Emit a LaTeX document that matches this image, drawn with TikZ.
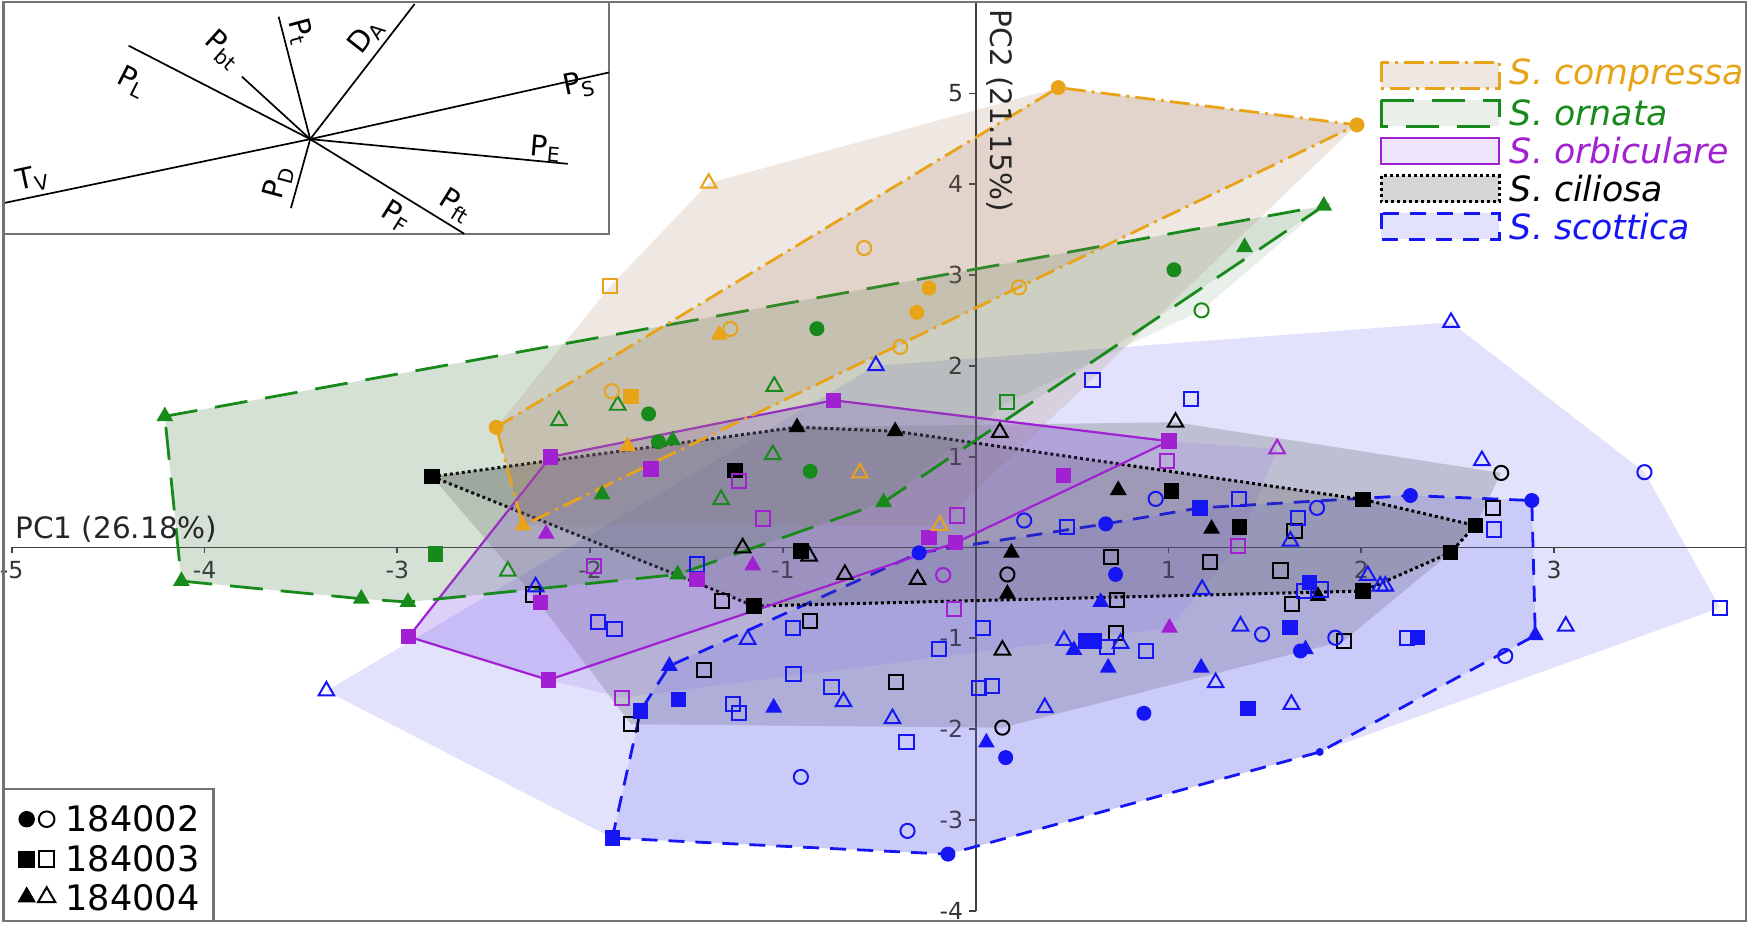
\documentclass[tikz,border=0pt]{standalone}
\usepackage{fontspec}
\setmainfont{DejaVu Sans}
\usetikzlibrary{shapes.geometric}

\definecolor{comp}{RGB}{232,163,25}
\definecolor{orna}{RGB}{24,138,28}
\definecolor{orbi}{RGB}{160,32,210}
\definecolor{scot}{RGB}{22,22,245}
\definecolor{compbg}{RGB}{170,130,100}
\definecolor{ornabg}{RGB}{100,140,100}
\definecolor{orbibg}{RGB}{150,110,235}
\definecolor{cilibg}{RGB}{80,80,80}
\definecolor{scotbg}{RGB}{110,110,240}

\tikzset{
  mk/.style={inner sep=0pt,outer sep=0pt,line width=0.2mm},
  fsq/.style={mk,rectangle,minimum size=1.55mm,fill=#1},
  osq/.style={mk,rectangle,minimum size=1.42mm,draw=#1},
  fci/.style={mk,circle,minimum size=1.5mm,fill=#1},
  oci/.style={mk,circle,minimum size=1.42mm,draw=#1},
  ftr/.style={mk,regular polygon,regular polygon sides=3,minimum size=1.95mm,fill=#1},
  otr/.style={mk,regular polygon,regular polygon sides=3,minimum size=1.8mm,draw=#1},
  smalldot/.style={mk,circle,minimum size=0.8mm,fill=#1},
  compfill/.style={fill=compbg,fill opacity=0.19},
  ornafill/.style={fill=ornabg,fill opacity=0.14},
  orbifill/.style={fill=orbibg,fill opacity=0.18},
  cilifill/.style={fill=cilibg,fill opacity=0.24},
  scotfill/.style={fill=scotbg,fill opacity=0.2},
  compline/.style={draw=comp,line width=0.28mm,dash pattern=on 2mm off 0.6mm on 0.3mm off 0.6mm},
  ornaline/.style={draw=orna,line width=0.28mm,dash pattern=on 3.3mm off 1.8mm},
  orbiline/.style={draw=orbi,line width=0.22mm},
  cililine/.style={draw=black,line width=0.3mm,dash pattern=on 0.3mm off 0.3mm},
  scotline/.style={draw=scot,line width=0.28mm,dash pattern=on 1.6mm off 1.1mm},
  axisline/.style={draw=black!75,line width=0.18mm},
  box/.style={draw=black!55,line width=0.25mm},
  vec/.style={draw=black,line width=0.17mm},
  ticklab/.style={inner sep=0pt,font=\fontsize{6.7}{7}\selectfont,text=black!80},
  axlab/.style={inner sep=0pt,font=\fontsize{8.4}{9}\selectfont,text=black!85},
  vlab/.style={inner sep=0pt,font=\fontsize{8.2}{9}\selectfont},
  legtext/.style={inner sep=0pt,font=\fontsize{9.9}{11}\selectfont\itshape},
  popn/.style={inner sep=0pt,font=\fontsize{10}{11}\selectfont},
}

\begin{document}
\begin{tikzpicture}[x=1.93cm,y=0.909cm]
\begin{scope}[x=1cm,y=1cm]
  \useasboundingbox (-9.75,-3.78) rectangle (7.74,5.48);
\end{scope}

\path[scotfill] (-3.368,-1.580) -- (-0.518,2.002) -- (2.465,2.479) -- (3.468,0.829) -- (3.860,-0.664) -- (1.784,-2.252) -- (-0.144,-3.377) -- (-1.885,-3.200) -- cycle;
\path[cilifill] (-2.820,0.780) -- (-0.927,1.324) -- (1.036,1.379) -- (2.725,0.821) -- (2.591,0.242) -- (2.461,-0.058) -- (1.908,-1.030) -- (0.138,-1.984) -- (-1.788,-1.947) -- (-2.297,-0.517) -- cycle;
\path[orbifill] (-2.941,-0.983) -- (-2.206,0.997) -- (-0.737,1.621) -- (1.002,1.170) -- (1.563,1.086) -- (1.359,0.015) -- (1.005,-0.884) -- (-1.836,-1.654) -- (-2.216,-1.459) -- cycle;
\path[ornafill] (-4.206,1.444) -- (1.805,3.762) -- (1.171,2.611) -- (0.164,1.599) -- (-0.478,0.498) -- (-1.546,-0.297) -- (-2.945,-0.601) -- (-3.187,-0.565) -- (-4.120,-0.370) -- cycle;
\path[compfill] (-2.487,1.323) -- (-1.896,2.875) -- (-1.385,4.012) -- (0.428,5.064) -- (1.977,4.653) -- (-0.187,0.242) -- (-2.349,0.242) -- cycle;

\draw[axisline] (-5,0) -- (3.99,0);
\draw[axisline] (0,-4) -- (0,6.007);
\foreach \t in {-5,-4,-3,-2,-1,1,2,3}{
  \draw[axisline] (\t,0) -- ++(0,-0.6mm);
  \node[ticklab,anchor=north] (xt\t) at ([yshift=-1.3mm]\t,0) {\t};
}
\foreach \t in {-4,-3,-2,-1,1,2,3,4,5}{
  \draw[axisline] (0,\t) -- ++(-0.7mm,0);
  \node[ticklab,anchor=east] (yt\t) at ([xshift=-1.2mm]0,\t) {\t};
}

\draw[scotline,scotfill] (-1.885,-3.200) -- (-1.739,-1.800) -- (-1.589,-1.305) -- (-0.294,-0.059) -- (0.674,0.260) -- (1.162,0.436) -- (2.254,0.572) -- (2.884,0.517) -- (2.902,-0.968) -- (1.784,-2.252) -- (-0.144,-3.377) -- cycle;
\draw[cililine,cilifill] (-2.820,0.780) -- (-0.927,1.324) -- (-0.418,1.280) -- (2.009,0.528) -- (2.591,0.242) -- (2.461,-0.058) -- (2.009,-0.480) -- (-1.149,-0.645) -- cycle;
\draw[orbiline,orbifill] (-2.206,0.997) -- (-0.737,1.621) -- (1.002,1.170) -- (-0.104,0.052) -- (-2.216,-1.459) -- (-2.941,-0.983) -- cycle;
\draw[ornaline,ornafill] (-4.206,1.444) -- (1.805,3.762) -- (-0.478,0.498) -- (-1.546,-0.297) -- (-2.945,-0.601) -- (-3.187,-0.565) -- (-4.120,-0.370) -- cycle;
\draw[compline,compfill] (-2.487,1.323) -- (0.428,5.064) -- (1.977,4.653) -- (-2.349,0.242) -- cycle;

\foreach \x/\y [count=\i] in {-2.820/0.780,-1.249/0.850,-0.907/-0.040,-1.149/-0.645,1.014/0.620,1.369/0.227,2.009/0.528,2.591/0.242,2.461/-0.058,2.009/-0.480}
  \node[fsq=black] (cili-fs-\i) at (\x,\y) {};
\foreach \x/\y [count=\i] in {-0.927/1.324,-0.418/1.280,0.739/0.631,0.185/-0.059,0.164/-0.510,1.223/0.205,1.775/-0.535}
  \node[ftr=black] (cili-ft-\i) at (\x,\y) {};
\foreach \x/\y [count=\i] in {0.703/-0.106,0.734/-0.583,0.729/-0.939,-0.858/-0.810,-1.318/-0.590,-1.408/-1.350,-0.415/-1.481,-1.788/-1.947,-2.297/-0.517,1.653/0.180,1.214/-0.161,1.580/-0.253,1.641/-0.627,1.908/-1.030,2.682/0.437}
  \node[osq=black] (cili-os-\i) at (\x,\y) {};
\foreach \x/\y [count=\i] in {0.125/1.268,1.036/1.379,-1.209/-0.004,-0.864/-0.095,-0.679/-0.297,-0.302/-0.352,0.138/-1.130}
  \node[otr=black] (cili-ot-\i) at (\x,\y) {};
\foreach \x/\y [count=\i] in {0.164/-0.297,0.138/-1.984,2.725/0.821}
  \node[oci=black] (cili-oc-\i) at (\x,\y) {};

\foreach \x/\y [count=\i] in {-0.294/-0.059,0.674/0.260,2.254/0.572,2.884/0.517,0.725/-0.297,0.155/-2.314,0.872/-1.826,1.684/-1.140,-0.144/-3.377}
  \node[fci=scot] (scot-fc-\i) at (\x,\y) {};
\node[smalldot=scot] (scot-dot) at (1.784,-2.252) {};
\foreach \x/\y [count=\i] in {-1.885/-3.200,-1.739/-1.800,-1.541/-1.672,0.570/-1.031,0.612/-1.031,1.162/0.436,1.629/-0.884,1.411/-1.775,1.732/-0.388,2.292/-0.994}
  \node[fsq=scot] (scot-fs-\i) at (\x,\y) {};
\foreach \x/\y [count=\i] in {-1.589/-1.305,-1.048/-1.764,0.055/-2.149,0.509/-1.130,0.687/-1.324,0.648/-0.601,1.169/-1.324,1.710/-1.122,2.902/-0.968}
  \node[ftr=scot] (scot-ft-\i) at (\x,\y) {};
\foreach \x/\y [count=\i] in {0.251/0.297,0.933/0.535,1.770/0.436,3.468/0.829,1.485/-0.957,1.865/-0.994,2.746/-1.195,-0.907/-2.527,-0.354/-3.121}
  \node[oci=scot] (scot-oc-\i) at (\x,\y) {};
\foreach \x/\y [count=\i] in {0.605/1.848,1.118/1.636,0.472/0.227,1.365/0.535,1.670/0.326,2.686/0.198,1.701/-0.481,1.791/-0.462,-1.446/-0.187,-1.960/-0.821,-1.874/-0.902,-0.950/-0.884,0.038/-0.884,-0.190/-1.115,0.679/-1.093,0.881/-1.140,-0.945/-1.397,-0.748/-1.533,0.017/-1.544,0.086/-1.526,-1.261/-1.727,-1.226/-1.819,-0.359/-2.141,2.237/-0.994,3.860/-0.664}
  \node[osq=scot] (scot-os-\i) at (\x,\y) {};
\foreach \x/\y [count=\i] in {-0.518/2.002,2.465/2.479,2.625/0.957,1.632/0.070,2.033/-0.308,2.098/-0.425,2.124/-0.425,1.174/-0.462,-2.283/-0.433,-1.183/-1.012,0.458/-1.023,0.751/-1.056,-0.686/-1.698,-0.432/-1.885,0.358/-1.764,1.373/-0.866,1.244/-1.489,1.637/-1.727,3.060/-0.866,-3.368/-1.580}
  \node[otr=scot] (scot-ot-\i) at (\x,\y) {};

\foreach \x/\y [count=\i] in {-2.206/0.997,-0.737/1.621,1.002/1.170,-0.104/0.052,-2.216/-1.459,-2.941/-0.983,-1.684/0.865,-2.258/-0.608,0.454/0.792,-1.447/-0.352,-0.242/0.107}
  \node[fsq=orbi] (orbi-fs-\i) at (\x,\y) {};
\foreach \x/\y [count=\i] in {-2.228/0.150,-1.157/-0.198,1.005/-0.884}
  \node[ftr=orbi] (orbi-ft-\i) at (\x,\y) {};
\foreach \x/\y [count=\i] in {-1.226/0.730,-1.105/0.319,-0.098/0.352,0.993/0.950,-1.978/-0.205,1.359/0.015,-0.112/-0.675,-1.836/-1.654}
  \node[osq=orbi] (orbi-os-\i) at (\x,\y) {};
\node[otr=orbi] (orbi-ot-1) at (1.563,1.086) {};
\node[oci=orbi] (orbi-oc-1) at (-0.169,-0.304) {};

\foreach \x/\y [count=\i] in {-4.206/1.444,-4.120/-0.370,-3.187/-0.565,-2.945/-0.601,-1.546/-0.297,-0.478/0.498,1.805/3.762,1.394/3.307,-1.938/0.583,-1.572/1.181}
  \node[ftr=orna] (orna-ft-\i) at (\x,\y) {};
\foreach \x/\y [count=\i] in {-1.697/1.471,-1.646/1.163,-0.824/2.409,-0.859/0.839,1.028/3.058}
  \node[fci=orna] (orna-fc-\i) at (\x,\y) {};
\node[fsq=orna] (orna-fs-1) at (-2.801,-0.070) {};
\foreach \x/\y [count=\i] in {-2.162/1.397,-1.857/1.566,-1.045/1.775,-1.053/1.023,-1.321/0.528,-2.427/-0.260}
  \node[otr=orna] (orna-ot-\i) at (\x,\y) {};
\node[oci=orna] (orna-oc-1) at (1.171,2.611) {};
\node[osq=orna] (orna-os-1) at (0.164,1.599) {};

\foreach \x/\y [count=\i] in {-2.487/1.323,0.428/5.064,1.977/4.653,-0.242/2.857,-0.306/2.589}
  \node[fci=comp] (comp-fc-\i) at (\x,\y) {};
\node[fsq=comp] (comp-fs-1) at (-1.788,1.665) {};
\foreach \x/\y [count=\i] in {-1.330/2.343,-1.805/1.115,-2.349/0.242}
  \node[ftr=comp] (comp-ft-\i) at (\x,\y) {};
\foreach \x/\y [count=\i] in {-1.385/4.012,-0.601/0.822,-0.187/0.242}
  \node[otr=comp] (comp-ot-\i) at (\x,\y) {};
\node[osq=comp] (comp-os-1) at (-1.896,2.875) {};
\foreach \x/\y [count=\i] in {-0.579/3.297,-0.392/2.208,-1.273/2.406,-1.888/1.720,0.224/2.864}
  \node[oci=comp] (comp-oc-\i) at (\x,\y) {};

\begin{scope}[x=1cm,y=1cm]
  \node[axlab,anchor=base west] (pc1) at (-9.62,0.09) {PC1 (26.18\%)};
  \node[axlab,rotate=-90,anchor=north west] (pc2) at (0.38,5.39) {PC2 (21.15\%)};

  \draw[box] (-9.73,-3.74) rectangle (7.71,5.46);
  \draw[box] (-9.73,3.14) -- (-3.67,3.14) -- (-3.67,5.46);
  \coordinate (ctr) at (-6.662,4.087);
  \coordinate (PL) at (-8.48,5.023);
  \coordinate (Pbt) at (-7.346,4.713);
  \coordinate (Pt) at (-6.978,5.313);
  \coordinate (DA) at (-5.617,5.44);
  \coordinate (PS) at (-3.67,4.755);
  \coordinate (PE) at (-4.084,3.84);
  \coordinate (PF) at (-5.12,3.14);
  \coordinate (PD) at (-6.855,3.397);
  \coordinate (TV) at (-9.717,3.45);
  \foreach \e in {PL,Pbt,Pt,DA,PS,PE,PF,PD,TV}
    \draw[vec] (ctr) -- (\e);
  \node[vlab,rotate=-27] (lPL) at (-8.44,4.66) {P\textsubscript{L}};
  \node[vlab,rotate=-42] (lPbt) at (-7.53,4.98) {P\textsubscript{bt}};
  \node[vlab,rotate=-75] (lPt) at (-6.76,5.16) {P\textsubscript{t}};
  \node[vlab,rotate=52] (lDA) at (-6.10,5.12) {D\textsubscript{A}};
  \node[vlab,rotate=12] (lPS) at (-3.97,4.63) {P\textsubscript{S}};
  \node[vlab,rotate=-5] (lPE) at (-4.30,3.99) {P\textsubscript{E}};
  \node[vlab,rotate=-32] (lPF) at (-5.80,3.31) {P\textsubscript{F}};
  \node[vlab,rotate=-32] (lPft) at (-5.20,3.42) {P\textsubscript{ft}};
  \node[vlab,rotate=75] (lPD) at (-6.98,3.66) {P\textsubscript{D}};
  \node[vlab,rotate=12] (lTV) at (-9.44,3.69) {T\textsubscript{V}};

  \foreach \ln/\fl/\tc/\txt [count=\i] in {compline/compfill/comp/compressa,ornaline/ornafill/orna/ornata,orbiline/orbifill/orbi/orbiculare,cililine/cilifill/black/ciliosa,scotline/scotfill/scot/scottica}{
    \draw[\ln,\fl] (4.06,{5.233-0.378*\i}) rectangle ++(1.18,-0.26);
    \node[legtext,text=\tc,anchor=west] (leg-\txt) at (5.34,{5.103-0.378*\i}) {S. \txt};
  }

  \draw[box] (-9.73,-2.42) -- (-7.63,-2.42) -- (-7.63,-3.74);
  \node[fci=black,scale=1.1] (key-fc) at (-9.50,-2.72) {};
  \node[oci=black,scale=1.1] (key-oc) at (-9.30,-2.72) {};
  \node[popn,anchor=west] (key-1) at (-9.12,-2.72) {184002};
  \node[fsq=black,scale=1.1] (key-fs) at (-9.50,-3.12) {};
  \node[osq=black,scale=1.1] (key-os) at (-9.30,-3.12) {};
  \node[popn,anchor=west] (key-2) at (-9.12,-3.12) {184003};
  \node[ftr=black,scale=1.1] (key-ft) at (-9.50,-3.50) {};
  \node[otr=black,scale=1.1] (key-ot) at (-9.30,-3.50) {};
  \node[popn,anchor=west] (key-3) at (-9.12,-3.51) {184004};
\end{scope}
\end{tikzpicture}
\end{document}
